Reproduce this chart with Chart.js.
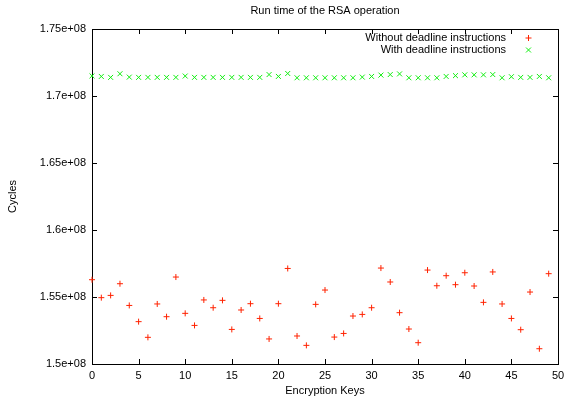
<!DOCTYPE html>
<html>
<head>
<meta charset="utf-8">
<script src="https://cdn.jsdelivr.net/npm/chart.js@4/dist/chart.umd.min.js"></script>
<style>
  body { margin: 0; background: #fff; }
</style>
</head>
<body>
<canvas id="rsa-chart" width="566" height="400"></canvas>
<script>
// encryption key index (x axis)
const keys = [0, 1, 2, 3, 4, 5, 6, 7, 8, 9, 10, 11, 12, 13, 14, 15, 16, 17, 18, 19,
    20, 21, 22, 23, 24, 25, 26, 27, 28, 29, 30, 31, 32, 33, 34, 35, 36, 37, 38, 39,
    40, 41, 42, 43, 44, 45, 46, 47, 48, 49];

// cycles (x 1e8)
const withoutDeadline = [1.5629, 1.5495, 1.5512, 1.5599, 1.5437, 1.5316, 1.5199, 1.5448, 1.5353, 1.5649,
    1.5378, 1.5288, 1.5478, 1.5420, 1.5475, 1.5258, 1.5403, 1.5450, 1.5340, 1.5187,
    1.5450, 1.5713, 1.5209, 1.5139, 1.5445, 1.5552, 1.5201, 1.5228, 1.5358, 1.5370,
    1.5420, 1.5716, 1.5612, 1.5383, 1.5261, 1.5159, 1.5701, 1.5584, 1.5659, 1.5592,
    1.5681, 1.5582, 1.5460, 1.5687, 1.5448, 1.5340, 1.5256, 1.5537, 1.5114, 1.5674];

const withDeadline = [1.7150, 1.7146, 1.7139, 1.7166, 1.7141, 1.7139, 1.7139, 1.7139, 1.7139, 1.7139,
    1.7149, 1.7139, 1.7139, 1.7139, 1.7139, 1.7139, 1.7139, 1.7139, 1.7139, 1.7160,
    1.7146, 1.7168, 1.7136, 1.7136, 1.7136, 1.7136, 1.7136, 1.7136, 1.7136, 1.7141,
    1.7146, 1.7156, 1.7160, 1.7165, 1.7136, 1.7136, 1.7136, 1.7136, 1.7146, 1.7152,
    1.7158, 1.7158, 1.7158, 1.7160, 1.7136, 1.7144, 1.7139, 1.7139, 1.7146, 1.7136];

const chartTitle = 'Run time of the RSA operation';

const FONT = '"Liberation Sans", Arial, Helvetica, sans-serif';
Chart.defaults.font.family = FONT;
Chart.defaults.font.size = 11;
Chart.defaults.color = '#000';

function toPoints(values) {
    return keys.map((k, i) => ({ x: k, y: values[i] * 1e8 }));
}

function drawMarker(ctx, style, x, y, r) {
    ctx.beginPath();
    if (style === 'cross') {
        ctx.moveTo(x - r, y); ctx.lineTo(x + r, y);
        ctx.moveTo(x, y - r); ctx.lineTo(x, y + r);
    } else {
        const d = r * Math.SQRT1_2;
        ctx.moveTo(x - d, y - d); ctx.lineTo(x + d, y + d);
        ctx.moveTo(x - d, y + d); ctx.lineTo(x + d, y - d);
    }
    ctx.stroke();
}

// gnuplot look: box frame, inward mirrored ticks, key top right, title over plot
const gnuplotFrame = {
    id: 'gnuplotFrame',
    beforeDatasetsDraw(chart) {
        const { ctx, chartArea: a, scales } = chart;
        ctx.save();
        ctx.strokeStyle = '#000';
        ctx.lineWidth = 1;
        ctx.strokeRect(a.left + 0.5, a.top + 0.5, a.right - a.left, a.bottom - a.top);

        const len = 5;
        ctx.beginPath();
        scales.x.ticks.forEach(t => {
            const px = Math.round(scales.x.getPixelForValue(t.value)) + 0.5;
            ctx.moveTo(px, a.bottom); ctx.lineTo(px, a.bottom - len);
            ctx.moveTo(px, a.top); ctx.lineTo(px, a.top + len);
        });
        scales.y.ticks.forEach(t => {
            const py = Math.round(scales.y.getPixelForValue(t.value)) + 0.5;
            ctx.moveTo(a.left, py); ctx.lineTo(a.left + len, py);
            ctx.moveTo(a.right, py); ctx.lineTo(a.right - len, py);
        });
        ctx.stroke();

        // title
        ctx.fillStyle = '#000';
        ctx.font = '11px ' + FONT;
        ctx.textAlign = 'center';
        ctx.textBaseline = 'middle';
        ctx.fillText(chartTitle, (a.left + a.right) / 2, 11);

        // key
        ctx.textAlign = 'right';
        chart.data.datasets.forEach((ds, i) => {
            const y = a.top + 9 + i * 12;
            ctx.fillStyle = '#000';
            ctx.fillText(ds.label, a.right - 52, y);
            ctx.strokeStyle = ds.borderColor;
            drawMarker(ctx, ds.pointStyle, a.right - 29.5, y, ds.pointRadius);
        });
        ctx.restore();
    }
};

new Chart(document.getElementById('rsa-chart').getContext('2d'), {
    type: 'scatter',
    data: {
        datasets: [
            {
                label: 'Without deadline instructions',
                data: toPoints(withoutDeadline),
                pointStyle: 'cross',
                pointRadius: 3,
                borderColor: '#ff2200',
                backgroundColor: '#ff2200',
                borderWidth: 1,
                clip: false
            },
            {
                label: 'With deadline instructions',
                data: toPoints(withDeadline),
                pointStyle: 'crossRot',
                pointRadius: 3.5,
                borderColor: '#11ee11',
                backgroundColor: '#11ee11',
                borderWidth: 1,
                clip: false
            }
        ]
    },
    options: {
        responsive: false,
        animation: false,
        layout: { padding: { top: 29, right: 8, left: 0, bottom: 0 } },
        plugins: {
            legend: { display: false },
            tooltip: { enabled: false }
        },
        scales: {
            x: {
                type: 'linear',
                min: 0,
                max: 50,
                grid: { display: false, drawTicks: false },
                border: { display: false },
                ticks: { stepSize: 5, padding: 5 },
                title: { display: true, text: 'Encryption Keys', padding: { top: 0, bottom: 2 } },
                afterFit: scale => {
                    scale.height = 36;
                    scale.paddingLeft = 0;
                    scale.paddingRight = 0;
                }
            },
            y: {
                min: 1.5e8,
                max: 1.75e8,
                grid: { display: false, drawTicks: false },
                border: { display: false },
                ticks: {
                    stepSize: 5e6,
                    padding: 6,
                    callback: v => (v / 1e8).toFixed(2).replace(/0+$/, '').replace(/\.$/, '') + 'e+08'
                },
                title: { display: true, text: 'Cycles', padding: { top: 6, bottom: 4 } },
                afterFit: scale => { scale.width = 92; }
            }
        }
    },
    plugins: [gnuplotFrame]
});
</script>
</body>
</html>
